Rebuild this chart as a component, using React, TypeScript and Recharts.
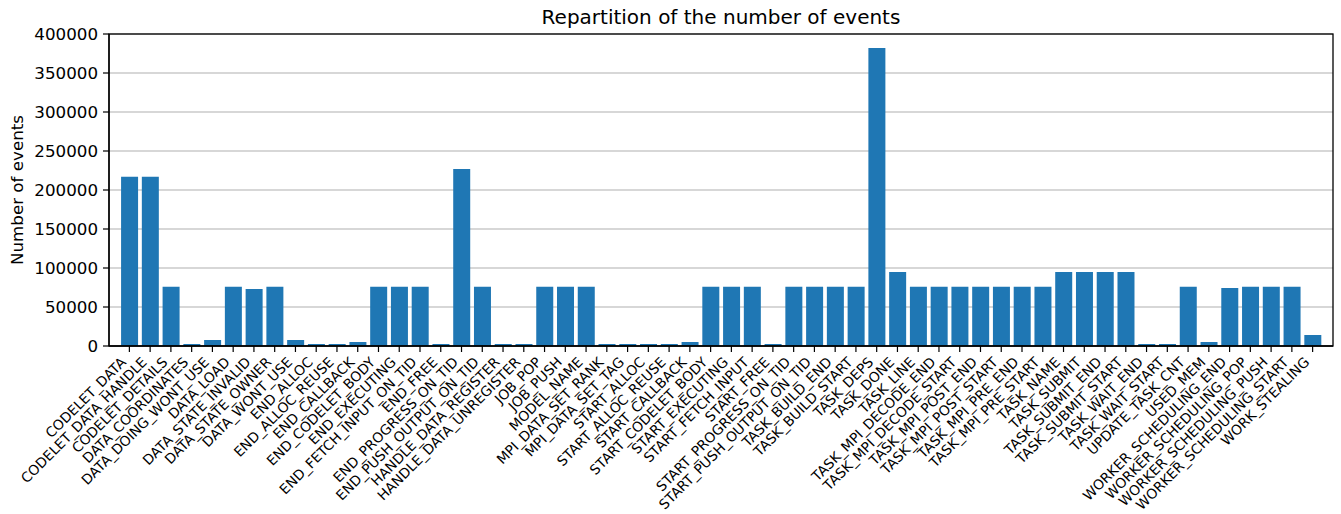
import React from "react";
import { BarChart, Bar, XAxis, YAxis, CartesianGrid } from "recharts";

// Event types recorded in the trace, and how many of each were seen.
const eventNames: string[] = [
  "CODELET_DATA", "CODELET_DATA_HANDLE", "CODELET_DETAILS", "DATA_COORDINATES",
  "DATA_DOING_WONT_USE", "DATA_LOAD", "DATA_STATE_INVALID", "DATA_STATE_OWNER",
  "DATA_WONT_USE", "END_ALLOC", "END_ALLOC_REUSE", "END_CALLBACK",
  "END_CODELET_BODY", "END_EXECUTING", "END_FETCH_INPUT_ON_TID", "END_FREE",
  "END_PROGRESS_ON_TID", "END_PUSH_OUTPUT_ON_TID", "HANDLE_DATA_REGISTER",
  "HANDLE_DATA_UNREGISTER", "JOB_POP", "JOB_PUSH", "MODEL_NAME",
  "MPI_DATA_SET_RANK", "MPI_DATA_SET_TAG", "START_ALLOC", "START_ALLOC_REUSE",
  "START_CALLBACK", "START_CODELET_BODY", "START_EXECUTING", "START_FETCH_INPUT",
  "START_FREE", "START_PROGRESS_ON_TID", "START_PUSH_OUTPUT_ON_TID",
  "TASK_BUILD_END", "TASK_BUILD_START", "TASK_DEPS", "TASK_DONE", "TASK_LINE",
  "TASK_MPI_DECODE_END", "TASK_MPI_DECODE_START", "TASK_MPI_POST_END",
  "TASK_MPI_POST_START", "TASK_MPI_PRE_END", "TASK_MPI_PRE_START", "TASK_NAME",
  "TASK_SUBMIT", "TASK_SUBMIT_END", "TASK_SUBMIT_START", "TASK_WAIT_END",
  "TASK_WAIT_START", "UPDATE_TASK_CNT", "USED_MEM", "WORKER_SCHEDULING_END",
  "WORKER_SCHEDULING_POP", "WORKER_SCHEDULING_PUSH", "WORKER_SCHEDULING_START",
  "WORK_STEALING",
];

const eventCounts: number[] = [
  217000, 217000, 76000, 2600,
  7700, 76000, 73000, 76000,
  7700, 2600, 2600, 5100,
  76000, 76000, 76000, 2600,
  227000, 76000, 2600,
  2600, 76000, 76000, 76000,
  2600, 2600, 2600, 2600,
  5100, 76000, 76000, 76000,
  2600, 76000, 76000,
  76000, 76000, 382000, 95000, 76000,
  76000, 76000, 76000,
  76000, 76000, 76000, 95000,
  95000, 95000, 95000, 2600,
  2600, 76000, 5100, 74400,
  76000, 76000, 76000,
  14100,
];

const yTicks: number[] = [0, 50000, 100000, 150000, 200000, 250000, 300000, 350000, 400000];

const data = eventNames.map((name, i) => ({ name, count: eventCounts[i] }));

const FONT = "'DejaVu Sans', sans-serif";
const W = 1341;
const H = 514;
const PLOT_LEFT = 109;
const PLOT_RIGHT = 1333;
const PLOT_TOP = 34;
const PLOT_BOTTOM = 346;

const RotatedTick = (props: any) => {
  const { x, y, payload } = props;
  const ax = x - 2.4;
  const ay = y + 5;
  return (
    <text
      x={ax}
      y={ay}
      transform={`rotate(-45, ${ax}, ${ay})`}
      textAnchor="end"
      fontSize={13.8}
      fontFamily={FONT}
      fill="#000"
    >
      {payload.value}
    </text>
  );
};

export default function App() {
  return (
    <div style={{ position: "absolute", left: 0, top: 0, width: W, height: H, background: "#fff" }}>
      <BarChart
        width={W}
        height={H}
        data={data}
        margin={{ top: PLOT_TOP, right: W - PLOT_RIGHT, bottom: 0, left: 0 }}
        barCategoryGap="10%"
      >
        <CartesianGrid horizontal vertical={false} stroke="#b0b0b0" strokeWidth={1.2} />
        <XAxis
          dataKey="name"
          interval={0}
          height={H - PLOT_BOTTOM}
          padding={{ left: 10, right: 10 }}
          tick={<RotatedTick />}
          tickSize={6}
          tickMargin={6}
          tickLine={{ stroke: "#000", strokeWidth: 1.2 }}
          axisLine={{ stroke: "#000", strokeWidth: 1.3 }}
        />
        <YAxis
          width={PLOT_LEFT}
          domain={[0, 400000]}
          ticks={yTicks}
          interval={0}
          tickSize={6}
          tickMargin={5}
          tick={{ fontSize: 16.7, fontFamily: FONT, fill: "#000" }}
          tickLine={{ stroke: "#000", strokeWidth: 1.2 }}
          axisLine={{ stroke: "#000", strokeWidth: 1.3 }}
        />
        <Bar dataKey="count" fill="#1f77b4" isAnimationActive={false} />
      </BarChart>
      <svg
        width={W}
        height={H}
        style={{ position: "absolute", left: 0, top: 0, pointerEvents: "none" }}
      >
        {/* axes frame */}
        <rect
          x={PLOT_LEFT}
          y={PLOT_TOP}
          width={PLOT_RIGHT - PLOT_LEFT}
          height={PLOT_BOTTOM - PLOT_TOP}
          fill="none"
          stroke="#000"
          strokeWidth={1.3}
        />
        <text
          x={(PLOT_LEFT + PLOT_RIGHT) / 2}
          y={24}
          textAnchor="middle"
          fontSize={20}
          fontFamily={FONT}
          fill="#000"
        >
          Repartition of the number of events
        </text>
        <text
          x={23}
          y={(PLOT_TOP + PLOT_BOTTOM) / 2}
          transform={`rotate(-90, 23, ${(PLOT_TOP + PLOT_BOTTOM) / 2})`}
          textAnchor="middle"
          fontSize={16.7}
          fontFamily={FONT}
          fill="#000"
        >
          Number of events
        </text>
      </svg>
    </div>
  );
}
